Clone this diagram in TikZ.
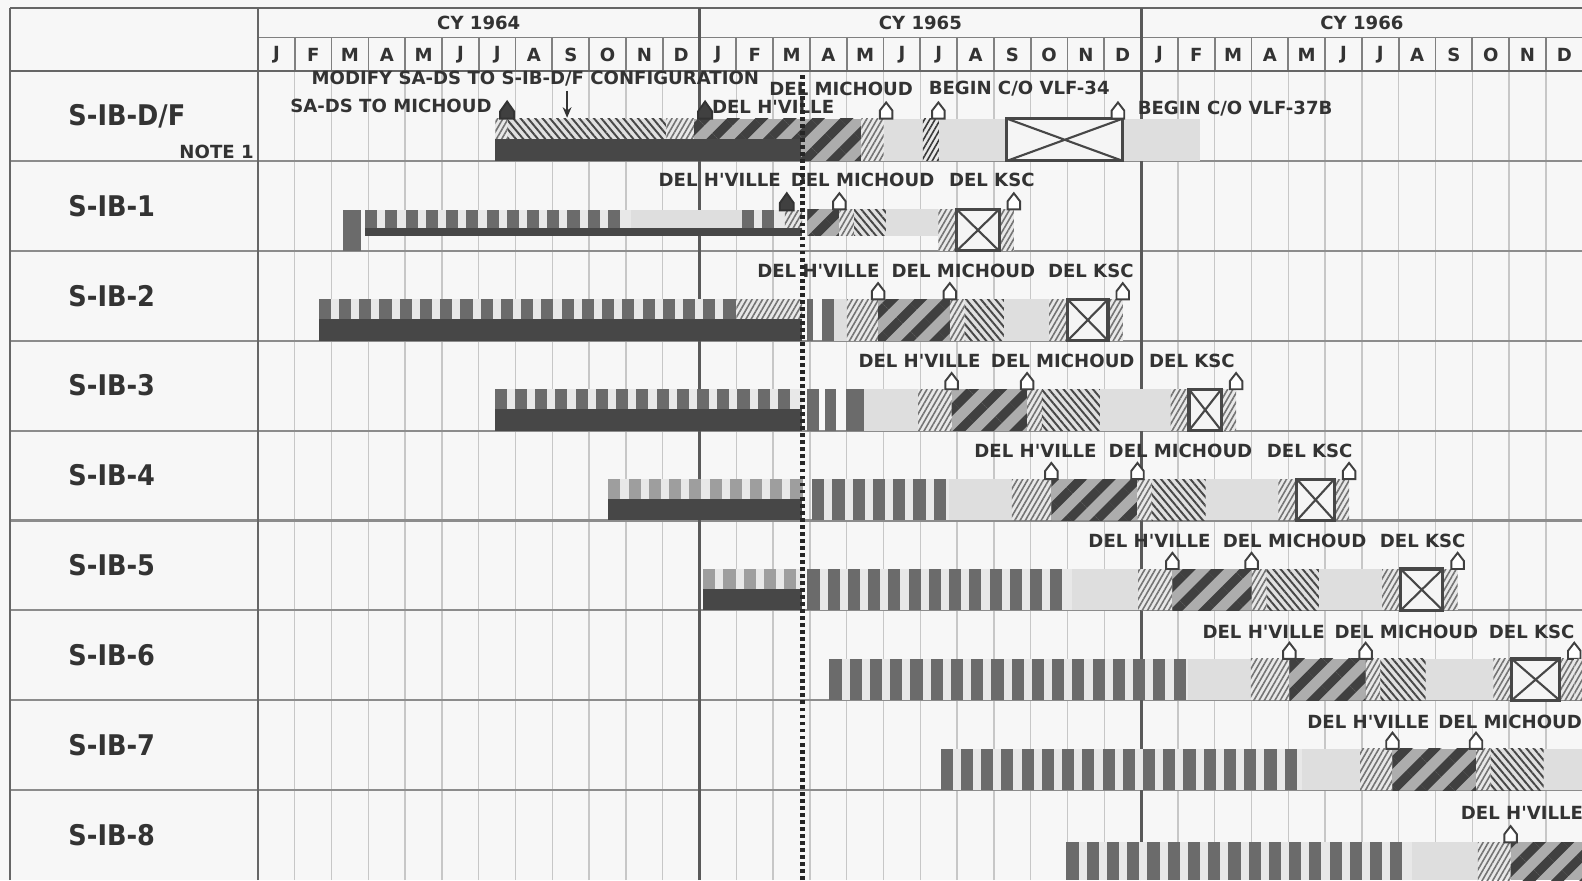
\documentclass[tikz,border=0pt]{standalone}
\usepackage{fontspec}
\newfontfamily\chartfont{DejaVuSansCondensed-Bold.ttf}
\newfontfamily\notefont{DejaVuSans-Bold.ttf}
\usetikzlibrary{arrows.meta,patterns.meta}

% a run of grey blocks: from, to, bottom, top, block style
\newcommand\comb[5]{%
  \fill[combbg] (#1,#3) rectangle (#2,#4);
  \pgfmathsetmacro\combnext{#1+0.55}
  \pgfmathsetmacro\combend{#2-0.3}
  \foreach \cx in {#1,\combnext,...,\combend}
    \fill[#5] (\cx,#3) rectangle ++(0.33,#4-#3);
}
% light, fine hatch, H'VILLE stripes, MICHOUD chevron, back hatch, light
\newcommand\tail[6]{%
  \fill[lightbar] (#1,0) rectangle (#2,0.46);
  \fill[finehatch] (#2,0) rectangle (#3,0.46);
  \fill[widestripe] (#3,0) rectangle (#4,0.46);
  \fill[finehatch] (#4,0) rectangle ({#4+0.4},0.46);
  \fill[backhatch] ({#4+0.4},0) rectangle (#5,0.46);
  \fill[lightbar] (#5,0) rectangle (#6,0.46);
  \pic at (#3,0.46) {openmark};
  \pic at (#4,0.46) {openmark};
}
% the KSC box with its hatched sides
\newcommand\ksc[2]{%
  \fill[finehatch] (#1,0) rectangle ({#1+0.5},0.46);
  \fill[finehatch] ({#2-0.4},0) rectangle (#2,0.46);
  \filldraw[xbox] ({#1+0.5},0) rectangle ({#2-0.4},0.46);
  \draw[xline] ({#1+0.5},0) -- ({#2-0.4},0.46) ({#1+0.5},0.46) -- ({#2-0.4},0);
  \pic at (#2,0.46) {openmark};
}

\begin{document}
\begin{tikzpicture}[x=0.368cm, y=0.899cm,
  txt/.style        = {font=\notefont\fontsize{5.15}{6}\selectfont, text=black!80, inner sep=0pt},
  rowlbl/.style     = {font=\chartfont\fontsize{8.1}{10}\selectfont, text=black!80,
                       inner sep=0pt, anchor=west},
  monthline/.style  = {black!22, line width=0.4pt},
  hdrline/.style    = {black!50, line width=0.5pt},
  rowline/.style    = {black!45, line width=0.6pt},
  frame/.style      = {black!60, line width=0.7pt},
  yearline/.style   = {black!65, line width=0.8pt},
  todayline/.style  = {black!85, line width=1.4pt, dash pattern=on 1.1pt off 0.9pt},
  darkbar/.style    = {fill=black!72},
  lightbar/.style   = {fill=black!13},
  combbg/.style     = {fill=black!9},
  combblk/.style    = {fill=black!58},
  comblt/.style     = {fill=black!38},
  finehatch/.style  = {preaction={fill=black!9},
                       pattern={Lines[angle=60,distance=1.3pt,line width=0.45pt]},
                       pattern color=black!55},
  backhatch/.style  = {preaction={fill=black!12},
                       pattern={Lines[angle=-50,distance=1.6pt,line width=0.55pt]},
                       pattern color=black!72},
  widestripe/.style = {preaction={fill=black!32},
                       pattern={Lines[angle=45,distance=5.7pt,line width=2.6pt]},
                       pattern color=black!75},
  xbox/.style       = {draw=black!72, line width=0.9pt, fill=black!4},
  xline/.style      = {black!72, line width=0.6pt},
  arrow/.style      = {black!80, line width=0.6pt, -{Stealth[length=3pt,width=2.5pt]}},
  openmark/.pic     = {\filldraw[draw=black!75, fill=white, line width=0.55pt]
                       (-0.17,0) -- (-0.17,0.09) -- (0,0.18) -- (0.17,0.09) -- (0.17,0) -- cycle;},
  fullmark/.pic     = {\filldraw[draw=black!80, fill=black!75, line width=0.55pt]
                       (-0.19,0) -- (-0.19,0.08) -- (0,0.19) -- (0.19,0.08) -- (0.19,0) -- cycle;},
]
\useasboundingbox[fill=black!3] (-7.011,0) rectangle (35.98,9.79);

% grid
\foreach \i in {1,...,35} \draw[monthline] (\i,0) -- (\i,9);
\foreach \i in {1,...,35} \draw[hdrline] (\i,9) -- (\i,9.373);
\foreach \y in {1,...,8} \draw[rowline] (-6.74,\y) -- (36,\y);
\draw[hdrline] (0,9.373) -- (36,9.373);
\draw[frame] (-6.74,9.70) -- (36,9.70);
\draw[frame] (-6.74,9) -- (36,9);
\draw[frame] (-6.74,0) -- (-6.74,9.70);
\draw[frame] (0,0) -- (0,9.70);
\foreach \i in {12,24} \draw[yearline] (\i,0) -- (\i,9.70);

% header
\foreach \yr/\lbl in {0/1964,1/1965,2/1966}
  \node[txt] (cy\lbl) at (12*\yr+6,9.54) {CY \lbl};
\foreach \yr in {0,1,2}
  \foreach \l [count=\i from 0] in {J,F,M,A,M,J,J,A,S,O,N,D}
    \node[txt] (m\yr-\i) at (12*\yr+\i+0.5,9.18) {\l};

% row names
\node[rowlbl] (rowdf) at (-5.17,8.5) {S-IB-D/F};
\foreach \k in {1,...,8} \node[rowlbl] (row\k) at (-5.17,8.5-\k) {S-IB-\k};

% S-IB-D/F
\begin{scope}[shift={(0,8)}]
  \fill[finehatch] (6.45,0.24) rectangle (6.8,0.47);
  \fill[backhatch] (6.8,0.24) rectangle (11.1,0.47);
  \fill[finehatch] (11.1,0.24) rectangle (11.85,0.47);
  \fill[widestripe] (11.85,0.24) rectangle (14.76,0.47);
  \fill[darkbar] (6.45,0) rectangle (14.76,0.24);
  \fill[widestripe] (14.76,0) rectangle (16.4,0.47);
  \fill[finehatch] (16.4,0) rectangle (17.0,0.47);
  \fill[lightbar] (17.0,0) rectangle (18.07,0.47);
  \fill[finehatch, pattern color=black!78] (18.07,0) rectangle (18.5,0.47);
  \fill[lightbar] (18.5,0) rectangle (20.35,0.47);
  \fill[lightbar] (23.5,0) rectangle (25.6,0.47);
  \filldraw[xbox] (20.35,0) rectangle (23.5,0.47);
  \draw[xline] (20.35,0) -- (23.5,0.47) (20.35,0.47) -- (23.5,0);
  \pic at (6.77,0.47) {fullmark};
  \pic at (12.15,0.47) {fullmark};
  \pic at (17.07,0.47) {openmark};
  \pic at (18.49,0.47) {openmark};
  \pic at (23.37,0.47) {openmark};
  \node[txt, anchor=west] (lmodify) at (1.44,0.91) {MODIFY SA-DS TO S-IB-D/F CONFIGURATION};
  \node[txt, anchor=west] (lsads) at (0.86,0.61) {SA-DS TO MICHOUD};
  \node[txt, anchor=west] (ldfmich) at (13.88,0.80) {DEL MICHOUD};
  \node[txt, anchor=west] (ldfhv) at (12.32,0.60) {DEL H'VILLE};
  \node[txt, anchor=west] (lvlfa) at (18.21,0.80) {BEGIN C/O VLF-34};
  \node[txt, anchor=west] (lvlfb) at (23.89,0.58) {BEGIN C/O VLF-37B};
  \node[txt, anchor=east] (lnote) at (-0.1,0.10) {NOTE 1};
  \coordinate (modtip) at (8.4,0.48);
  \draw[arrow] (lmodify.south -| modtip) ++(0,-0.04) -- (modtip);
\end{scope}

% S-IB-1
\begin{scope}[shift={(0,7)}]
  \fill[combblk] (2.31,0) rectangle (2.81,0.45);
  \comb{2.91}{10.13}{0.25}{0.45}{combblk}
  \fill[lightbar] (10.13,0.25) rectangle (13.14,0.45);
  \comb{13.14}{14.32}{0.25}{0.45}{combblk}
  \fill[finehatch] (14.32,0.17) rectangle (14.79,0.45);
  \fill[darkbar] (2.91,0.17) rectangle (14.79,0.25);
  \fill[widestripe] (14.93,0.17) rectangle (15.8,0.46);
  \fill[finehatch] (15.8,0.17) rectangle (16.2,0.46);
  \fill[backhatch] (16.2,0.17) rectangle (17.07,0.46);
  \fill[lightbar] (17.07,0.17) rectangle (18.49,0.46);
  \ksc{18.49}{20.54}
  \pic at (14.37,0.45) {fullmark};
  \pic at (15.8,0.46) {openmark};
  \node[txt, anchor=west] (l1hv) at (10.87,0.79) {DEL H'VILLE};
  \node[txt, anchor=west] (l1mich) at (14.46,0.79) {DEL MICHOUD};
  \node[txt, anchor=west] (l1ksc) at (18.76,0.79) {DEL KSC};
\end{scope}

% S-IB-2
\begin{scope}[shift={(0,6)}]
  \comb{1.65}{13.0}{0.24}{0.46}{combblk}
  \fill[finehatch] (13.0,0.24) rectangle (14.79,0.46);
  \fill[darkbar] (1.65,0) rectangle (14.79,0.24);
  \fill[combblk] (14.92,0) rectangle (15.09,0.46);
  \fill[combblk] (15.34,0) rectangle (15.64,0.46);
  \tail{15.64}{16.0}{16.85}{18.8}{20.27}{21.5}
  \ksc{21.5}{23.5}
  \node[txt, anchor=west] (l2hv) at (13.55,0.78) {DEL H'VILLE};
  \node[txt, anchor=west] (l2mich) at (17.2,0.78) {DEL MICHOUD};
  \node[txt, anchor=west] (l2ksc) at (21.45,0.78) {DEL KSC};
\end{scope}

% S-IB-3
\begin{scope}[shift={(0,5)}]
  \comb{6.43}{14.79}{0.24}{0.46}{combblk}
  \fill[darkbar] (6.43,0) rectangle (14.79,0.24);
  \fill[combblk] (14.93,0) rectangle (15.25,0.46);
  \fill[combblk] (15.42,0) rectangle (15.7,0.46);
  \fill[combblk] (15.97,0) rectangle (16.46,0.46);
  \tail{16.46}{17.94}{18.85}{20.9}{22.88}{24.8}
  \ksc{24.8}{26.58}
  \node[txt, anchor=west] (l3hv) at (16.3,0.77) {DEL H'VILLE};
  \node[txt, anchor=west] (l3mich) at (19.9,0.77) {DEL MICHOUD};
  \node[txt, anchor=west] (l3ksc) at (24.2,0.77) {DEL KSC};
\end{scope}

% S-IB-4
\begin{scope}[shift={(0,4)}]
  \comb{9.52}{14.79}{0.24}{0.46}{comblt}
  \fill[darkbar] (9.52,0) rectangle (14.79,0.24);
  \comb{15.06}{18.77}{0}{0.46}{combblk}
  \tail{18.77}{20.49}{21.56}{23.9}{25.75}{27.73}
  \ksc{27.73}{29.65}
  \node[txt, anchor=west] (l4hv) at (19.45,0.77) {DEL H'VILLE};
  \node[txt, anchor=west] (l4mich) at (23.1,0.77) {DEL MICHOUD};
  \node[txt, anchor=west] (l4ksc) at (27.4,0.77) {DEL KSC};
\end{scope}

% S-IB-5
\begin{scope}[shift={(0,3)}]
  \comb{12.1}{14.79}{0.24}{0.46}{comblt}
  \fill[darkbar] (12.1,0) rectangle (14.79,0.24);
  \comb{14.93}{22.13}{0}{0.46}{combblk}
  \tail{22.13}{23.92}{24.85}{27.0}{28.83}{30.55}
  \ksc{30.55}{32.6}
  \node[txt, anchor=west] (l5hv) at (22.55,0.77) {DEL H'VILLE};
  \node[txt, anchor=west] (l5mich) at (26.2,0.77) {DEL MICHOUD};
  \node[txt, anchor=west] (l5ksc) at (30.47,0.77) {DEL KSC};
\end{scope}

% S-IB-6
\begin{scope}[shift={(0,2)}]
  \comb{15.53}{25.26}{0}{0.46}{combblk}
  \tail{25.26}{26.98}{28.03}{30.1}{31.73}{33.57}
  \ksc{33.57}{35.77}
  \fill[finehatch] (35.77,0) rectangle (35.98,0.46);
  \node[txt, anchor=west] (l6hv) at (25.65,0.76) {DEL H'VILLE};
  \node[txt, anchor=west] (l6mich) at (29.24,0.76) {DEL MICHOUD};
  \node[txt, anchor=west] (l6ksc) at (33.43,0.76) {DEL KSC};
\end{scope}

% S-IB-7
\begin{scope}[shift={(0,1)}]
  \comb{18.55}{28.36}{0}{0.46}{combblk}
  \tail{28.36}{29.95}{30.83}{33.1}{34.94}{35.98}
  \node[txt, anchor=west] (l7hv) at (28.5,0.76) {DEL H'VILLE};
  \node[txt, anchor=west] (l7mich) at (32.06,0.76) {DEL MICHOUD};
\end{scope}

% S-IB-8
\begin{scope}[shift={(0,0)}]
  \comb{21.97}{31.37}{0}{0.42}{combblk}
  \fill[lightbar] (31.37,0) rectangle (33.15,0.42);
  \fill[finehatch] (33.15,0) rectangle (34.04,0.42);
  \fill[widestripe] (34.04,0) rectangle (35.98,0.42);
  \pic at (34.04,0.42) {openmark};
  \node[txt, anchor=west] (l8hv) at (32.67,0.75) {DEL H'VILLE};
\end{scope}

% status line
\draw[todayline] (14.79,0) -- (14.79,8.95);
\end{tikzpicture}
\end{document}
